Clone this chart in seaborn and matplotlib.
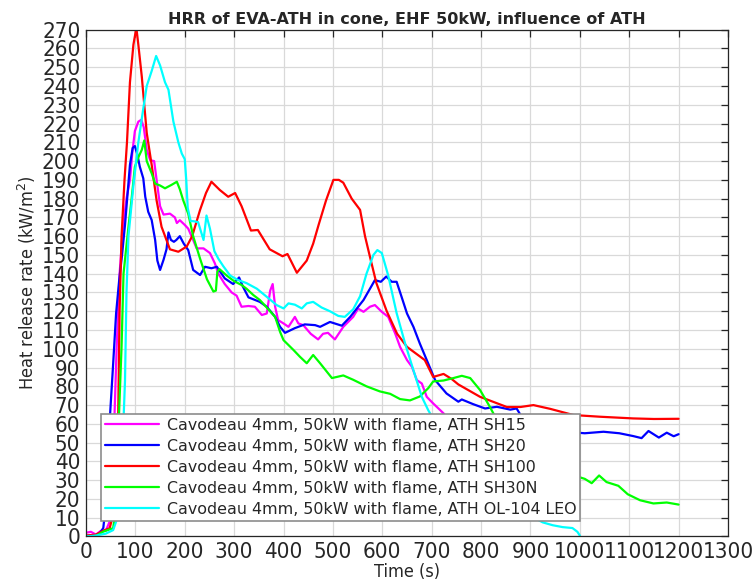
import numpy as np
import pandas as pd
import matplotlib
matplotlib.use("Agg")
import matplotlib.pyplot as plt
from matplotlib.font_manager import FontProperties
import seaborn as sns

# Heat release rate curves, cone calorimeter at 50 kW/m2 (time in s, HRR in kW/m2)
t_sh15 = [0, 10, 20, 30, 40, 48, 56, 62, 68, 75, 82, 89, 94, 99, 106, 112, 117, 123, 130, 138,
          143, 150, 157, 170, 180, 184, 190, 200, 207, 217, 224, 238, 251, 261, 268, 281, 295, 305,
          315, 329, 342, 356, 366, 373, 378, 383, 389, 400, 410, 423, 430, 440, 455, 470, 480, 490,
          504, 521, 541, 551, 562, 575, 585, 599, 612, 626, 636, 650, 660, 670, 680, 690, 703, 724,
          740, 760]
hrr_sh15 = [2, 2.5, 1, 3, 3, 8, 50, 100, 140, 165, 180, 190, 205, 216, 221, 222, 218, 206, 200.5, 200,
            190, 176, 171.5, 172, 170, 167, 168.5, 166, 164, 158, 153.5, 153.5, 151, 145.5, 140, 134.5, 130, 128.3,
            122.4, 122.8, 122.4, 118, 118.8, 131, 134.5, 122.4, 115.3, 113.5, 111.7, 117, 113.5, 112.6, 108, 105, 108, 108.5,
            105, 111.7, 117, 121.4, 119.7, 122.4, 123.3, 119.7, 117, 108.2, 101, 94, 90.4, 83.3, 81.5, 74.4, 70.9, 65.6,
            60, 55]

t_sh20 = [0, 20, 28, 35, 42, 49, 55, 61, 67, 73, 79, 89, 94.5, 99, 104, 109, 116, 120, 126, 133,
          140, 144.5, 150, 157, 163, 167, 172, 178, 183, 190, 198, 207, 217, 231, 241, 254, 265, 281,
          298, 310, 318, 329, 352, 366, 383, 393, 403, 423, 443, 464, 474, 494, 518, 535, 541, 562,
          585, 597, 608, 619, 629, 639, 650, 663, 676, 690, 707, 730, 754, 761, 784, 808, 832, 859,
          872, 882, 920, 960, 1010, 1048, 1080, 1108, 1125, 1139, 1160, 1176, 1190, 1200]
hrr_sh20 = [0.3, 0.5, 1.8, 4.5, 21, 66, 92, 119, 136, 150, 166, 198, 207, 208, 203.5, 197, 190.8, 181, 173, 168.6,
            158, 147, 142, 147.4, 153, 162, 158, 157, 158, 160, 156, 152.6, 142, 139.3, 143.7, 142.9, 143.7, 137.5,
            134.5, 138, 133, 127.4, 125, 122.4, 117, 111.7, 108.5, 111, 113, 112.6, 111.7, 114.3, 112.3, 117, 119, 126,
            136.6, 135.7, 138.5, 135.7, 135.7, 127.7, 118.8, 111.7, 102.8, 94, 83.3, 76.2, 71.8, 73, 70.5, 68.2, 69.1, 67.6,
            68.2, 63.8, 58, 56, 55, 55.8, 55, 53.5, 52.4, 56.2, 52.7, 55.3, 53.4, 54.5]

t_sh100 = [0, 20, 38, 48, 55, 60, 65, 68, 72, 78, 83, 89, 96, 102, 106, 113, 123, 133, 143, 153,
           170, 187, 204, 215, 231, 243, 254, 271, 288, 302, 315, 334, 348, 372, 398, 408, 427, 447,
           460, 471, 486, 501, 512, 521, 538, 555, 565, 575, 588, 609, 630, 650, 686, 703, 724, 740,
           754, 798, 852, 880, 906, 940, 987, 1041, 1108, 1150, 1200]
hrr_sh100 = [0.5, 1, 3.4, 4.4, 12, 25, 60, 120, 160, 190, 210, 242, 262, 271, 262, 245, 215, 198, 179, 165,
             153, 151.7, 154.5, 160, 174, 183, 189, 184.6, 181, 183, 176, 163, 163.3, 153, 149.3, 150.5, 140.5, 147,
             156, 166, 179, 190, 190, 188.5, 180, 174, 160, 149, 135, 120, 108, 101, 94, 85, 86.6, 84,
             81, 74.4, 69, 69, 70, 68, 64.7, 63.8, 62.9, 62.6, 62.7]

t_sh30n = [0, 20, 35, 55, 59, 62, 67, 72, 76, 86, 92, 99, 106, 113, 118, 123, 133, 140, 150, 160,
           173, 184, 190, 197, 207, 217, 231, 245, 258, 263, 266, 270, 285, 300, 315, 325, 339, 352,
           366, 383, 393, 400, 420, 433, 447, 460, 474, 498, 521, 541, 568, 595, 616, 636, 656, 676,
           693, 703, 724, 744, 761, 778, 798, 818, 830, 870, 920, 970, 1010, 1024, 1039, 1054, 1078,
           1097, 1122, 1149, 1176, 1200]
hrr_sh30n = [0, 0.3, 2.6, 4.4, 12, 40, 66, 101, 140, 165, 179, 197, 202, 206, 211, 200, 193.5, 188, 187, 185.5,
             187.3, 189, 185, 179, 172, 160, 148, 137, 130.5, 131, 141, 142.5, 139, 136, 134, 132, 128.6, 126,
             122, 117, 109, 104.6, 99.4, 95.8, 92.3, 96.7, 92.3, 84.4, 85.8, 83.5, 80, 77.3, 76, 73.2, 72.5, 74.6,
             79, 82.6, 83.1, 84.4, 85.6, 84.4, 78, 69, 63, 50, 40, 34, 30.7, 28.4, 32.5, 29, 27,
             22.5, 19.3, 17.6, 18.1, 17]

t_ol104 = [0, 20, 40, 55, 62, 69, 74, 79, 82, 86, 96, 106, 116, 123, 133, 142, 150, 160, 167, 177,
           187, 194, 200, 203, 206, 212, 217, 227, 238, 244, 251, 260, 268, 278, 292, 308, 325, 346,
           366, 386, 400, 410, 423, 437, 447, 460, 477, 494, 511, 524, 541, 555, 568, 582, 590, 599,
           612, 629, 646, 663, 680, 693, 720, 760, 800, 850, 900, 925, 945, 965, 985, 995, 1000]
hrr_ol104 = [0, 0.5, 1.5, 3.4, 8.7, 21, 48, 83, 130, 160, 187, 210, 228, 240, 248, 256, 251, 242, 238, 221,
             210, 204, 201, 190, 175, 168, 168, 167.5, 158, 171, 164, 152, 148, 144, 139, 136.6, 135, 132,
             127.7, 123.3, 121.5, 124.2, 123.5, 121.5, 124.2, 125, 122, 120, 117.5, 117, 121, 128, 140, 150, 152.6, 151,
             139, 119, 103, 88.6, 74.4, 67.3, 55, 40, 28, 18, 11, 7.5, 6, 5, 4.5, 2.5, 0.5]

labels = ["Cavodeau 4mm, 50kW with flame, ATH SH15",
          "Cavodeau 4mm, 50kW with flame, ATH SH20",
          "Cavodeau 4mm, 50kW with flame, ATH SH100",
          "Cavodeau 4mm, 50kW with flame, ATH SH30N",
          "Cavodeau 4mm, 50kW with flame, ATH OL-104 LEO"]
colors = ["#ff00ff", "#0000ff", "#ff0000", "#00ff00", "#00ffff"]

series = [(t_sh15, hrr_sh15), (t_sh20, hrr_sh20), (t_sh100, hrr_sh100),
          (t_sh30n, hrr_sh30n), (t_ol104, hrr_ol104)]
frames = [pd.DataFrame({"Time": t, "HRR": v, "Sample": lab})
          for (t, v), lab in zip(series, labels)]
df = pd.concat(frames, ignore_index=True)

sns.set_style("white")
plt.rcParams["font.family"] = ["DejaVu Sans"]

fig = plt.figure(figsize=(7.53, 5.86), dpi=100)
ax = fig.add_axes([0.1142, 0.0845, 0.8526, 0.8648])

sns.lineplot(data=df, x="Time", y="HRR", hue="Sample", hue_order=labels,
             palette=colors, estimator=None, sort=False, linewidth=1.6, ax=ax)

ax.set_xlim(0, 1300)
ax.set_ylim(0, 270)
ax.set_xticks(np.arange(0, 1301, 100))
ax.set_yticks(np.arange(0, 271, 10))

tick_font = FontProperties(family="DejaVu Sans", stretch="condensed", size=16)
for lab in ax.get_xticklabels() + ax.get_yticklabels():
    lab.set_fontproperties(tick_font)

ax.grid(True, color="#d9d9d9", linewidth=0.9)
ax.set_axisbelow(True)
ax.tick_params(direction="in", length=5, width=0.9, color="#262626",
               top=True, right=True, labelcolor="#262626")
ax.tick_params(axis="y", pad=4)
ax.tick_params(axis="x", pad=4)
for s in ax.spines.values():
    s.set_color("#262626")
    s.set_linewidth(0.9)

ax.set_title("HRR of EVA-ATH in cone, EHF 50kW, influence of ATH",
             fontsize=11.5, fontweight="bold", pad=4)
ax.set_xlabel("Time (s)", fontsize=13, fontstretch="condensed", labelpad=1)
ax.set_ylabel("Heat release rate (kW/m$^2$)", fontsize=13, fontstretch="condensed", labelpad=3)

leg = ax.legend(loc="lower left", bbox_to_anchor=(0.0234, 0.0306), fontsize=11.4,
                frameon=True, fancybox=False, framealpha=1, edgecolor="#8c8c8c",
                handlelength=3.4, labelspacing=0.38, borderpad=0.25, handletextpad=0.5,
                borderaxespad=0)
leg.get_frame().set_linewidth(1.2)
for line in leg.get_lines():
    line.set_linewidth(1.6)

fig.savefig("out.png", dpi=100)
